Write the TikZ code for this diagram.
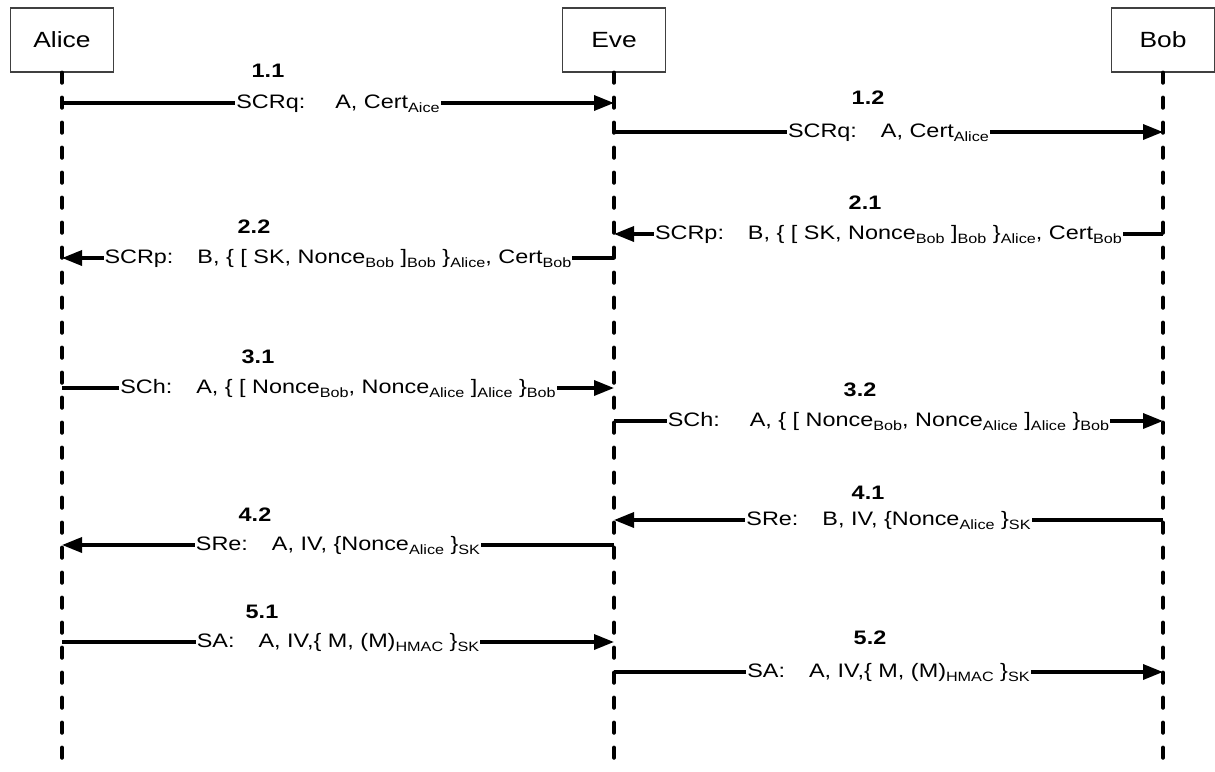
\documentclass[tikz,border=0pt]{standalone}
\usepackage{fontspec}
\setmainfont[FakeStretch=1.2]{Liberation Sans}
\usetikzlibrary{arrows.meta}
% lowered, smaller text for subscripts in the message contents
\newcommand\sub[1]{\raisebox{-4pt}{\fontsize{13.5}{13.5}\selectfont #1}}
% wide space between message type and its fields
\newcommand\fieldgap{\hspace{24pt}}

\begin{document}
\begin{tikzpicture}[x=1pt,y=-1pt,
  party/.style={draw=black!75, line width=1.3pt, minimum width=103pt, minimum height=64pt,
                inner sep=0pt, font=\fontsize{22}{22}\selectfont},
  lifeline/.style={line width=4.2pt, line cap=round, dash pattern=on 10pt off 15pt},
  msg/.style={line width=3.4pt, -{Triangle[length=20pt,width=15pt]}},
  msgtext/.style={fill=white, inner xsep=1pt, inner ysep=1pt, anchor=base, yshift=-5pt,
                  font=\fontsize{19.5}{19.5}\selectfont},
  seqno/.style={font=\bfseries\fontsize{19.5}{19.5}\selectfont}
]
\useasboundingbox (0,0) rectangle (1215,771);

% participants
\node[party] (alice) at (62,40)   {Alice};
\node[party] (eve)   at (614,40)  {Eve};
\node[party] (bob)   at (1163,40) {Bob};

% lifelines
\coordinate (aliceEnd) at (62,771);
\coordinate (eveEnd)   at (614,771);
\coordinate (bobEnd)   at (1163,771);
\draw[lifeline] (alice.south) -- (aliceEnd);
\draw[lifeline] (eve.south)   -- (eveEnd);
\draw[lifeline] (bob.south)   -- (bobEnd);

% message end points on the lifelines
\coordinate (a11) at (62,103);   \coordinate (e11) at (614,103);
\coordinate (e12) at (614,132);  \coordinate (b12) at (1163,132);
\coordinate (b21) at (1163,234); \coordinate (e21) at (614,234);
\coordinate (e22) at (614,258);  \coordinate (a22) at (62,258);
\coordinate (a31) at (62,388);   \coordinate (e31) at (614,388);
\coordinate (e32) at (614,421);  \coordinate (b32) at (1163,421);
\coordinate (b41) at (1163,520); \coordinate (e41) at (614,520);
\coordinate (e42) at (614,545);  \coordinate (a42) at (62,545);
\coordinate (a51) at (62,642);   \coordinate (e51) at (614,642);
\coordinate (e52) at (614,672);  \coordinate (b52) at (1163,672);

% 1: certificate request
\node[seqno] (n11) at (268,71) {1.1};
\draw[msg] (a11) -- node[msgtext] (t11) {SCRq:\hspace{30pt}A, Cert\sub{Aice}} (e11);
\node[seqno] (n12) at (868,98) {1.2};
\draw[msg] (e12) -- node[msgtext] (t12) {SCRq:\fieldgap A, Cert\sub{Alice}} (b12);

% 2: certificate response
\node[seqno] (n21) at (865,203) {2.1};
\draw[msg] (b21) -- node[msgtext] (t21)
  {SCRp:\fieldgap B, \{ [ SK, Nonce\sub{Bob} ]\sub{Bob} \}\sub{Alice}, Cert\sub{Bob}} (e21);
\node[seqno] (n22) at (254,227) {2.2};
\draw[msg] (e22) -- node[msgtext] (t22)
  {SCRp:\fieldgap B, \{ [ SK, Nonce\sub{Bob} ]\sub{Bob} \}\sub{Alice}, Cert\sub{Bob}} (a22);

% 3: challenge
\node[seqno] (n31) at (258,357) {3.1};
\draw[msg] (a31) -- node[msgtext] (t31)
  {SCh:\fieldgap A, \{ [ Nonce\sub{Bob}, Nonce\sub{Alice} ]\sub{Alice} \}\sub{Bob}} (e31);
\node[seqno] (n32) at (860,390) {3.2};
\draw[msg] (e32) -- node[msgtext] (t32)
  {SCh:\hspace{30pt}A, \{ [ Nonce\sub{Bob}, Nonce\sub{Alice} ]\sub{Alice} \}\sub{Bob}} (b32);

% 4: response
\node[seqno] (n41) at (868,493) {4.1};
\draw[msg] (b41) -- node[msgtext] (t41) {SRe:\fieldgap B, IV, \{Nonce\sub{Alice} \}\sub{SK}} (e41);
\node[seqno] (n42) at (255,515) {4.2};
\draw[msg] (e42) -- node[msgtext] (t42) {SRe:\fieldgap A, IV, \{Nonce\sub{Alice} \}\sub{SK}} (a42);

% 5: authenticated data
\node[seqno] (n51) at (262,612) {5.1};
\draw[msg] (a51) -- node[msgtext] (t51) {SA:\fieldgap A, IV,\{ M, (M)\sub{HMAC} \}\sub{SK}} (e51);
\node[seqno] (n52) at (870,638) {5.2};
\draw[msg] (e52) -- node[msgtext] (t52) {SA:\fieldgap A, IV,\{ M, (M)\sub{HMAC} \}\sub{SK}} (b52);
\end{tikzpicture}
\end{document}
